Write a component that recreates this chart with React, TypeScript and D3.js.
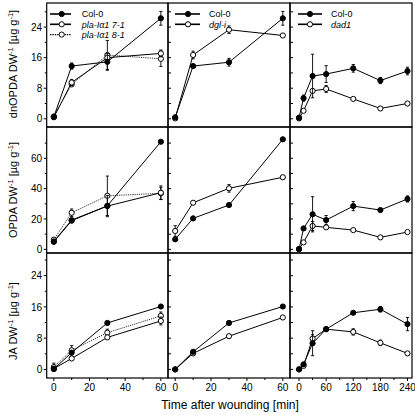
import React from "react";
import * as d3 from "d3";

// ---------- data ----------
const timesShort = [0, 10, 30, 60];
const timesLong = [0, 10, 30, 60, 120, 180, 240];

// dnOPDA (row 1)
const dnCol0Pla = [0.5, 13.8, 14.9, 26.3];
const dnCol0PlaErr = [0.3, 0.8, 2.2, 1.8];
const dnPla71 = [0.4, 9.5, 16.0, 17.1];
const dnPla71Err = [0.2, 0.8, 0.6, 0.9];
const dnPla81 = [0.6, 9.0, 16.7, 15.7];
const dnPla81Err = [0.3, 0.6, 3.8, 2.0];
const dnCol0Dgl = [0.4, 13.8, 14.8, 26.3];
const dnCol0DglErr = [0.2, 0.6, 1.0, 1.8];
const dnDgl = [0.1, 16.7, 23.3, 21.8];
const dnDglErr = [0.2, 1.0, 1.0, 0.3];
const dnCol0Dad = [0.3, 5.4, 11.2, 11.7, 13.2, 10.0, 12.5];
const dnCol0DadErr = [0.2, 0.8, 5.7, 2.2, 1.0, 0.8, 1.0];
const dnDad = [0.1, 2.1, 7.3, 7.8, 5.2, 2.7, 4.0];
const dnDadErr = [0.2, 0.4, 0.6, 0.9, 0.6, 0.3, 0.3];

// OPDA (row 2)
const opCol0Pla = [5.0, 18.9, 28.7, 70.9];
const opCol0PlaErr = [0.5, 1.0, 1.5, 1.0];
const opPla71 = [5.2, 19.3, 28.5, 37.3];
const opPla71Err = [0.5, 1.2, 7.0, 4.5];
const opPla81 = [6.4, 24.1, 35.3, 36.9];
const opPla81Err = [0.6, 2.5, 13.0, 4.0];
const opCol0Dgl = [6.6, 20.4, 29.2, 72.5];
const opCol0DglErr = [0.5, 0.8, 0.8, 0.8];
const opDgl = [12.1, 30.7, 40.2, 47.5];
const opDglErr = [3.5, 1.0, 2.5, 0.8];
const opCol0Dad = [0.2, 13.8, 23.1, 19.3, 28.5, 25.9, 33.2];
const opCol0DadErr = [0.3, 1.0, 11.6, 3.0, 3.0, 1.0, 2.0];
const opDad = [0.2, 4.6, 15.4, 14.5, 12.7, 7.9, 11.4];
const opDadErr = [0.2, 0.8, 3.0, 1.0, 1.0, 0.5, 0.5];

// JA (row 3)
const jaCol0Pla = [0.1, 4.3, 11.9, 16.1];
const jaCol0PlaErr = [0.2, 0.6, 0.4, 0.5];
const jaPla71 = [0.2, 2.8, 8.2, 12.4];
const jaPla71Err = [0.2, 0.4, 0.6, 1.0];
const jaPla81 = [0.6, 4.9, 9.4, 13.7];
const jaPla81Err = [1.0, 1.2, 0.9, 1.0];
const jaCol0Dgl = [0.0, 4.5, 11.9, 16.1];
const jaCol0DglErr = [0.2, 0.3, 0.3, 0.4];
const jaDgl = [0.0, 4.1, 8.5, 13.3];
const jaDglErr = [0.2, 0.3, 0.3, 0.3];
const jaCol0Dad = [0.0, 1.3, 6.7, 10.3, 14.5, 15.4, 11.6];
const jaCol0DadErr = [0.2, 0.4, 3.2, 0.5, 0.6, 0.7, 1.7];
const jaDad = [0.0, 0.9, 7.9, 10.3, 9.6, 6.8, 4.1];
const jaDadErr = [0.2, 0.3, 1.0, 0.4, 0.8, 0.7, 0.3];

// tick labels
const yMajorTicks = [[0, 8, 16, 24], [0, 20, 40, 60], [0, 8, 16, 24]];
const yMinorTicks = [[4, 12, 20, 28], [10, 30, 50, 70], [4, 12, 20, 28]];
const xMajorTicks = [[0, 20, 40, 60], [0, 20, 40, 60], [0, 60, 120, 180, 240]];
const xMinorTicks = [[10, 30, 50], [10, 30, 50], [30, 90, 150, 210]];
const yLabels = ["dnOPDA", "OPDA", "JA"];
const xTitle = "Time after wounding [min]";
const legendNames = [["Col-0", "pla-Iα1 7-1", "pla-Iα1 8-1"], ["Col-0", "dgl-i"], ["Col-0", "dad1"]];

// ---------- layout ----------
const colX = [[46.7, 168], [168, 290], [290, 412]];
const rowY = [[3, 127], [127, 253], [253, 378]];
const yDomains = [[-2.15, 30.3], [-2.4, 80.6], [-2.2, 29.8]];
const xDomains = [[-4, 64], [-4, 64], [-20, 250]];
const legendOffsets = [
  { l0: 3.3, l1: 24.3, m: 15, t: 35 },
  { l0: 7, l1: 32, m: 20, t: 41 },
  { l0: 8, l1: 32, m: 20, t: 41 },
];
const labelCenters = [64, 190, 321];
const FONT = "'Liberation Sans', Arial, Helvetica, sans-serif";

type Series = { name: string; v: number[]; e: number[]; filled: boolean; dotted: boolean };

const col0 = (v: number[], e: number[]): Series => ({ name: "Col-0", v, e, filled: true, dotted: false });
const mut = (name: string, v: number[], e: number[], dotted = false): Series => ({ name, v, e, filled: false, dotted });

const panelSeries: Series[][][] = [
  [
    [col0(dnCol0Pla, dnCol0PlaErr), mut("7-1", dnPla71, dnPla71Err), mut("8-1", dnPla81, dnPla81Err, true)],
    [col0(dnCol0Dgl, dnCol0DglErr), mut("dgl", dnDgl, dnDglErr)],
    [col0(dnCol0Dad, dnCol0DadErr), mut("dad", dnDad, dnDadErr)],
  ],
  [
    [col0(opCol0Pla, opCol0PlaErr), mut("7-1", opPla71, opPla71Err), mut("8-1", opPla81, opPla81Err, true)],
    [col0(opCol0Dgl, opCol0DglErr), mut("dgl", opDgl, opDglErr)],
    [col0(opCol0Dad, opCol0DadErr), mut("dad", opDad, opDadErr)],
  ],
  [
    [col0(jaCol0Pla, jaCol0PlaErr), mut("7-1", jaPla71, jaPla71Err), mut("8-1", jaPla81, jaPla81Err, true)],
    [col0(jaCol0Dgl, jaCol0DglErr), mut("dgl", jaDgl, jaDglErr)],
    [col0(jaCol0Dad, jaCol0DadErr), mut("dad", jaDad, jaDadErr)],
  ],
];
const colTimes = [timesShort, timesShort, timesLong];

const R = 2.6;

function Marker({ x, y, filled }: { x: number; y: number; filled: boolean }) {
  return <circle cx={x} cy={y} r={R} fill={filled ? "#000" : "#fff"} stroke="#000" strokeWidth={1} />;
}

function Panel({ ri, ci }: { ri: number; ci: number }) {
  const [x0, x1] = colX[ci];
  const [y0, y1] = rowY[ri];
  const xs = d3.scaleLinear().domain(xDomains[ci]).range([x0, x1]);
  const ys = d3.scaleLinear().domain(yDomains[ri]).range([y1, y0]);
  const times = colTimes[ci];
  const series = panelSeries[ri][ci];
  const line = d3
    .line<number>()
    .x((_, i) => xs(times[i]))
    .y((d) => ys(d));
  const inward = ci > 0;
  const tick = (v: number, len: number, k: string) => {
    const y = ys(v);
    return inward ? (
      <line key={k} x1={x0} x2={x0 + len} y1={y} y2={y} stroke="#000" strokeWidth={1} />
    ) : (
      <line key={k} x1={x0 - len} x2={x0} y1={y} y2={y} stroke="#000" strokeWidth={1} />
    );
  };
  // draw mutants first, Col-0 on top? keep order: mutants then col-0
  const order = [...series].reverse();
  return (
    <g>
      {yMajorTicks[ri].map((v) => tick(v, 3, "M" + v))}
      {yMinorTicks[ri].map((v) => tick(v, inward ? 3 : 2, "m" + v))}
      {!inward &&
        yMajorTicks[ri].map((v) => (
          <text key={"yl" + v} x={x0 - 4.5} y={ys(v) + 3.6} fontSize={10} textAnchor="end" fontFamily={FONT}>
            {v}
          </text>
        ))}
      {ri === 2 && (
        <g>
          {xMajorTicks[ci].map((v) => (
            <g key={"xM" + v}>
              <line x1={xs(v)} x2={xs(v)} y1={y1} y2={y1 + 3} stroke="#000" strokeWidth={1} />
              <text x={xs(v)} y={y1 + 12.5} fontSize={10} textAnchor="middle" fontFamily={FONT}>
                {v}
              </text>
            </g>
          ))}
          {xMinorTicks[ci].map((v) => (
            <line key={"xm" + v} x1={xs(v)} x2={xs(v)} y1={y1} y2={y1 + 2} stroke="#000" strokeWidth={1} />
          ))}
        </g>
      )}
      {order.map((s, si) => (
        <g key={"s" + si}>
          <path
            d={line(s.v) || ""}
            fill="none"
            stroke={s.dotted ? "#333" : "#000"}
            strokeWidth={s.dotted ? 1 : 1}
            strokeDasharray={s.dotted ? "1.2,1" : undefined}
          />
          {s.v.map((v, i) => {
            const e = s.e[i];
            if (!e || ys(v - e) - ys(v + e) < 2 * R) return null;
            const x = xs(times[i]);
            return (
              <g key={"e" + i}>
                <line x1={x} x2={x} y1={ys(v - e)} y2={ys(v + e)} stroke="#000" strokeWidth={0.9} />
                <line x1={x - 1.6} x2={x + 1.6} y1={ys(v - e)} y2={ys(v - e)} stroke="#000" strokeWidth={0.9} />
                <line x1={x - 1.6} x2={x + 1.6} y1={ys(v + e)} y2={ys(v + e)} stroke="#000" strokeWidth={0.9} />
              </g>
            );
          })}
          {s.v.map((v, i) => (
            <Marker key={"p" + i} x={xs(times[i])} y={ys(v)} filled={s.filled} />
          ))}
        </g>
      ))}
    </g>
  );
}

function Legend({ ci }: { ci: number }) {
  const off = legendOffsets[ci];
  const x0 = colX[ci][0];
  const names = legendNames[ci];
  return (
    <g>
      {names.map((n, i) => {
        const y = 14 + i * 10.3;
        const filled = i === 0;
        const dotted = ci === 0 && i === 2;
        return (
          <g key={n}>
            <line
              x1={x0 + off.l0}
              x2={x0 + off.l1}
              y1={y}
              y2={y}
              stroke="#000"
              strokeWidth={dotted ? 1.2 : 1.6}
              strokeDasharray={dotted ? "1.4,1" : undefined}
            />
            <Marker x={x0 + off.m} y={y} filled={filled} />
            <text
              x={x0 + off.t}
              y={y + 3.2}
              fontSize={9}
              fontFamily={FONT}
              fontStyle={i === 0 ? "normal" : "italic"}
            >
              {n}
            </text>
          </g>
        );
      })}
    </g>
  );
}

function YLabel({ ri }: { ri: number }) {
  return (
    <text
      transform={`translate(16.5,${labelCenters[ri]}) rotate(-90)`}
      textAnchor="middle"
      fontSize={11}
      fontFamily={FONT}
    >
      {yLabels[ri]} DW
      <tspan dy={-4} fontSize={7.5}>-1</tspan>
      <tspan dy={4}> [µg g</tspan>
      <tspan dy={-4} fontSize={7.5}>-1</tspan>
      <tspan dy={4}>]</tspan>
    </text>
  );
}

export default function App() {
  return (
    <svg
      width={415}
      height={415}
      style={{ position: "absolute", left: 0, top: 0, background: "#fff" }}
    >
      <rect x={0} y={0} width={415} height={415} fill="#fff" />
      {[0, 1, 2].map((ri) =>
        [0, 1, 2].map((ci) => <Panel key={ri + "-" + ci} ri={ri} ci={ci} />)
      )}
      {/* frames */}
      {[0, 1, 2].map((ri) =>
        [0, 1, 2].map((ci) => (
          <rect
            key={"f" + ri + ci}
            x={colX[ci][0]}
            y={rowY[ri][0]}
            width={colX[ci][1] - colX[ci][0]}
            height={rowY[ri][1] - rowY[ri][0]}
            fill="none"
            stroke="#000"
            strokeWidth={1.2}
          />
        ))
      )}
      {[0, 1, 2].map((ci) => (
        <Legend key={"lg" + ci} ci={ci} />
      ))}
      {[0, 1, 2].map((ri) => (
        <YLabel key={"yl" + ri} ri={ri} />
      ))}
      <text x={230} y={409} textAnchor="middle" fontSize={12} fontFamily={FONT}>
        {xTitle}
      </text>
    </svg>
  );
}
